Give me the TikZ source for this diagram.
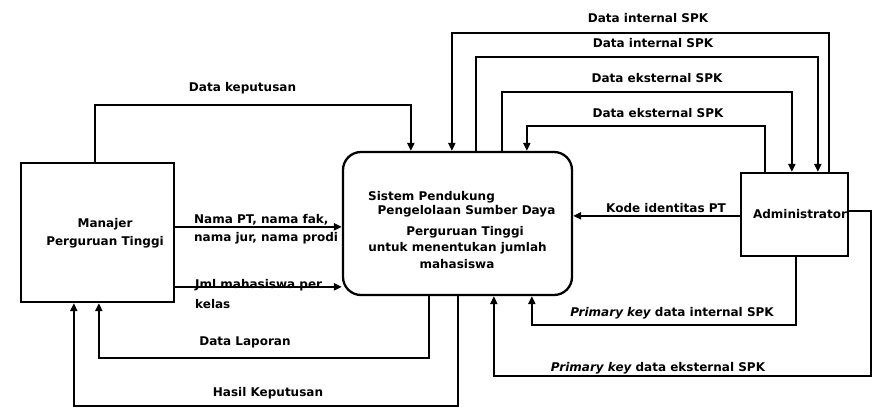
\documentclass[tikz,border=0pt]{standalone}
\usepackage{fontspec}
\setmainfont{DejaVu Sans}
\usetikzlibrary{arrows.meta,calc}
\begin{document}
\begin{tikzpicture}[x=1pt,y=-1pt,
  box/.style={draw, line width=2.3pt, inner sep=0pt},
  flow/.style={draw, line width=2.1pt, -{Triangle[length=8pt,width=7pt]}},
  lbl/.style={font=\fontsize{12}{18}\selectfont\bfseries, inner sep=0pt},
]
\useasboundingbox (0,0) rectangle (877,410);

% entities and process
\node[box, minimum width=153pt, minimum height=139pt] (mgr) at (97.5,232.5) {};
\node[lbl, align=center] (mgrt) at (105,233) {Manajer\\Perguruan Tinggi};
\node[box, rounded corners=18pt, minimum width=229pt, minimum height=143pt] (sys) at (457.5,223.5) {};
\node[box, minimum width=107pt, minimum height=83pt] (adm) at (794.5,214.5) {};
\node[lbl] (admt) at (800,214) {Administrator};

% process text
\node[lbl] (st1) at (431.5,197) {Sistem Pendukung};
\node[lbl] (st2) at (466.5,211) {Pengelolaan Sumber Daya};
\node[lbl] (st3) at (465,232) {Perguruan Tinggi};
\node[lbl] (st4) at (457.5,248) {untuk menentukan jumlah};
\node[lbl] (st5) at (457,264) {mahasiswa};

% attachment points on the process
\coordinate (sT1) at ($(sys.north west)+(69,0)$);
\coordinate (sT2) at ($(sys.north west)+(110,0)$);
\coordinate (sT3) at ($(sys.north west)+(134,0)$);
\coordinate (sT4) at ($(sys.north west)+(160,0)$);
\coordinate (sT5) at ($(sys.north west)+(185,0)$);
\coordinate (sB1) at ($(sys.south west)+(87,0)$);
\coordinate (sB2) at ($(sys.south west)+(116,0)$);
\coordinate (sB3) at ($(sys.south west)+(152,0)$);
\coordinate (sB4) at ($(sys.south west)+(190,0)$);

% attachment points on the entities
\coordinate (aT1) at ($(adm.north west)+(25,0)$);
\coordinate (aT2) at ($(adm.north west)+(52,0)$);
\coordinate (aT3) at ($(adm.north west)+(78,0)$);
\coordinate (aT4) at ($(adm.north west)+(89,0)$);
\coordinate (aL) at ($(adm.north west)+(0,44)$);
\coordinate (aR) at ($(adm.north east)+(0,39)$);
\coordinate (aB) at ($(adm.south west)+(56,0)$);
\coordinate (mT) at ($(mgr.north west)+(75,0)$);
\coordinate (mB1) at ($(mgr.south west)+(54,0)$);
\coordinate (mB2) at ($(mgr.south west)+(79,0)$);
\coordinate (mR1) at ($(mgr.north east)+(0,65)$);
\coordinate (mR2) at ($(mgr.north east)+(0,125)$);

% data flows
\draw[flow] (mT) -- ++(0,-57) -| (sT1);
\draw[flow] (aT4) -- ++(0,-139) -| (sT2);
\draw[flow] (sT3) -- ++(0,-94) -| (aT3);
\draw[flow] (sT4) -- ++(0,-59) -| (aT2);
\draw[flow] (aT1) -- ++(0,-46) -| (sT5);
\draw[flow] (aL) -- (aL -| sys.east);
\draw[flow] (aB) -- ++(0,68) -| (sB4);
\draw[flow] (aR) -- ++(22,0) -- ++(0,165) -| (sB3);
\draw[flow] (sB1) -- ++(0,62) -| (mB2);
\draw[flow] (sB2) -- ++(0,110) -| (mB1);
\draw[flow] (mR1) -- (mR1 -| sys.west);
\draw[flow] (mR2) -- (mR2 -| sys.west);

% flow labels
\node[lbl] (l1) at (242.5,88) {Data keputusan};
\node[lbl] (l2) at (648,18) {Data internal SPK};
\node[lbl] (l3) at (653,43) {Data internal SPK};
\node[lbl] (l4) at (657,78) {Data eksternal SPK};
\node[lbl] (l5) at (658,113) {Data eksternal SPK};
\node[lbl] (l6) at (666,208) {Kode identitas PT};
\node[lbl] (l7) at (672,313) {{\itshape Primary key} data internal SPK};
\node[lbl] (l8) at (658,368) {{\itshape Primary key} data eksternal SPK};
\node[lbl] (l9) at (245,342) {Data Laporan};
\node[lbl] (l10) at (268,393) {Hasil Keputusan};
\node[lbl, anchor=west] (l11) at (194,220) {Nama PT, nama fak,};
\node[lbl, anchor=west] (l12) at (194,238) {nama jur, nama prodi};
\node[lbl, anchor=west] (l13) at (195,285) {Jml mahasiswa per};
\node[lbl, anchor=west] (l14) at (195,304) {kelas};
\end{tikzpicture}
\end{document}
